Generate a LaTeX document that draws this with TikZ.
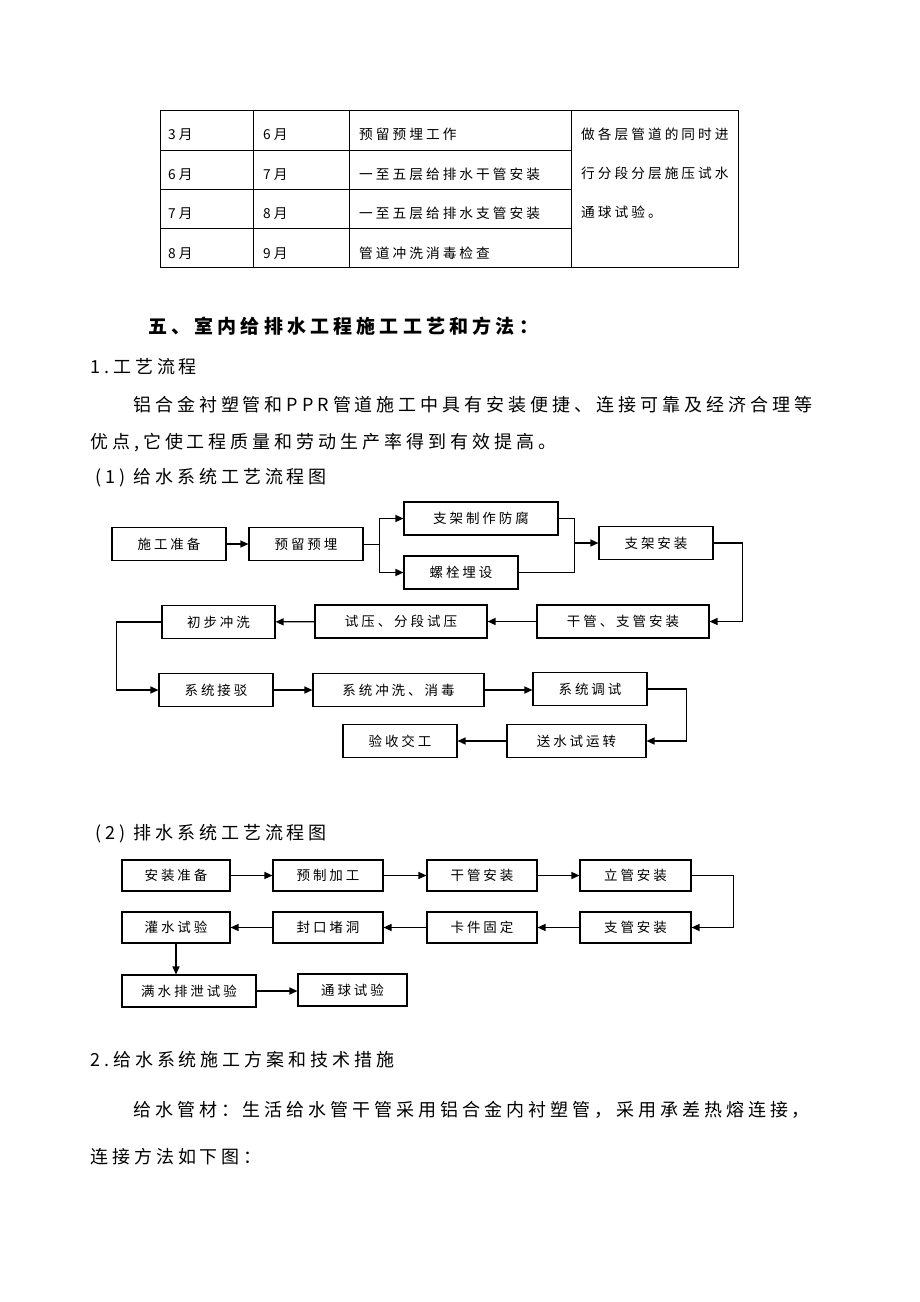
\documentclass[tikz,border=0pt]{standalone}
\usepackage{fontspec}
\setmainfont{Noto Sans CJK SC}[LetterSpace=22]
\usetikzlibrary{arrows.meta}

\begin{document}
\begin{tikzpicture}[
	x=1pt, y=-1pt,
	box/.style={draw, line width=1.1pt, minimum height=33pt, inner sep=0pt, font=\fontsize{13.5}{15}\selectfont},
	arrow/.style={-{Triangle[length=8pt,width=7pt]}, line width=1.3pt},
	link/.style={line width=1pt},
	txt/.style={anchor=west, inner sep=0pt, text height=0.88em, text depth=0.12em},
	body/.style={txt, font=\fontsize{18}{20}\selectfont},
	cell/.style={txt, font=\fontsize{13.7}{16}\selectfont}
	]
	\useasboundingbox (0,0) rectangle (920,1302);
	
	% Schedule table
	\draw[line width=0.9pt] (160,110) rectangle (738,267);
	\foreach \x in {253,349,571} \draw[line width=0.9pt] (\x,110) -- (\x,267);
	\foreach \y in {150,189,228} \draw[line width=0.9pt] (160,\y) -- (571,\y);
	\node[cell] (start1) at (168,136) {3月};
	\node[cell] (end1) at (263,136) {6月};
	\node[cell] (work1) at (359,136) {预留预埋工作};
	\node[cell] (start2) at (168,176) {6月};
	\node[cell] (end2) at (263,176) {7月};
	\node[cell] (work2) at (359,176) {一至五层给排水干管安装};
	\node[cell] (start3) at (168,215) {7月};
	\node[cell] (end3) at (263,215) {8月};
	\node[cell] (work3) at (359,215) {一至五层给排水支管安装};
	\node[cell] (start4) at (168,255) {8月};
	\node[cell] (end4) at (263,255) {9月};
	\node[cell] (work4) at (359,255) {管道冲洗消毒检查};
	\node[cell] (note1) at (581,136) {做各层管道的同时进};
	\node[cell] (note2) at (581,175) {行分段分层施压试水};
	\node[cell] (note3) at (581,214) {通球试验。};
	
	% Text of the page
	\node[body, font=\fontsize{19}{21}\selectfont\bfseries] (title) at (148,330) {五、室内给排水工程施工工艺和方法：};
	\node[body] (sec1) at (90,370) {1.工艺流程};
	\node[body] (para1) at (133,408) {铝合金衬塑管和PPR管道施工中具有安装便捷、连接可靠及经济合理等};
	\node[body] (para2) at (90,445) {优点,它使工程质量和劳动生产率得到有效提高。};
	\node[body] (cap1) at (95,480) {(1)~给水系统工艺流程图};
	\node[body] (cap2) at (95,836) {(2)~排水系统工艺流程图};
	\node[body] (sec2) at (90,1063) {2.给水系统施工方案和技术措施};
	\node[body] (para3) at (133,1113) {给水管材：生活给水管干管采用铝合金内衬塑管，采用承差热熔连接，};
	\node[body] (para4) at (90,1160) {连接方法如下图：};
	
	% Water supply flow
	\node[box, minimum width=114pt] (prepare) at (169,544) {施工准备};
	\node[box, minimum width=114pt] (embed) at (306,544) {预留预埋};
	\node[box, minimum width=154pt] (bracketmake) at (481,518.5) {支架制作防腐};
	\node[box, minimum width=114pt] (bolts) at (461,572.5) {螺栓埋设};
	\node[box, minimum width=114pt] (bracketfit) at (656,543) {支架安装};
	\node[box, minimum width=172pt] (pipefit) at (623,621.5) {干管、支管安装};
	\node[box, minimum width=172pt] (pressure) at (401,621.5) {试压、分段试压};
	\node[box, minimum width=113pt] (firstflush) at (218.5,622) {初步冲洗};
	\node[box, minimum width=114pt] (connect) at (216,690) {系统接驳};
	\node[box, minimum width=171pt] (disinfect) at (398.5,690) {系统冲洗、消毒};
	\node[box, minimum width=114pt] (debug) at (590,689) {系统调试};
	\node[box, minimum width=139pt] (trialrun) at (576.5,741) {送水试运转};
	\node[box, minimum width=114pt] (handover) at (400,741) {验收交工};
	\coordinate (merge) at (574,543);
	
	\draw[arrow] (prepare) -- (embed);
	\draw[link] (embed.east) -- ++(16,0) coordinate (split);
	\draw[arrow] (split) |- (bracketmake.west);
	\draw[arrow] (split) |- (bolts.west);
	\draw[link] (bracketmake.east) -| (merge);
	\draw[link] (bolts.east) -| (merge);
	\draw[arrow] (merge) -- (bracketfit.west);
	\draw[arrow] (bracketfit.east) -- ++(29,0) |- (pipefit.east);
	\draw[arrow] (pipefit) -- (pressure);
	\draw[arrow] (pressure) -- (firstflush);
	\draw[arrow] (firstflush.west) -- ++(-45,0) |- (connect.west);
	\draw[arrow] (connect) -- (disinfect);
	\draw[arrow] (disinfect.east) -- (disinfect.east -| debug.west);
	\draw[arrow] (debug.east) -- ++(39,0) |- (trialrun.east);
	\draw[arrow] (trialrun) -- (handover);
	
	% Drainage flow
	\node[box, minimum width=108pt, minimum height=31pt] (drainprep) at (176,875.5) {安装准备};
	\node[box, minimum width=110pt, minimum height=31pt] (prefab) at (328,875.5) {预制加工};
	\node[box, minimum width=110pt, minimum height=31pt] (mainpipe) at (482,875.5) {干管安装};
	\node[box, minimum width=111pt, minimum height=31pt] (riser) at (635.5,875.5) {立管安装};
	\node[box, minimum width=111pt, minimum height=31pt] (branch) at (635.5,927.5) {支管安装};
	\node[box, minimum width=110pt, minimum height=31pt] (clamps) at (482,927.5) {卡件固定};
	\node[box, minimum width=110pt, minimum height=31pt] (sealholes) at (328,927.5) {封口堵洞};
	\node[box, minimum width=108pt, minimum height=31pt] (filltest) at (176,927.5) {灌水试验};
	\node[box, minimum width=134pt, minimum height=32pt] (fulltest) at (189,991) {满水排泄试验};
	\node[box, minimum width=109pt, minimum height=32pt] (balltest) at (352.5,990) {通球试验};
	
	\draw[arrow] (drainprep) -- (prefab);
	\draw[arrow] (prefab) -- (mainpipe);
	\draw[arrow] (mainpipe) -- (riser);
	\draw[arrow] (riser.east) -- ++(42,0) |- (branch.east);
	\draw[arrow] (branch) -- (clamps);
	\draw[arrow] (clamps) -- (sealholes);
	\draw[arrow] (sealholes) -- (filltest);
	\draw[arrow] (filltest.south) -- (filltest.south |- fulltest.north);
	\draw[arrow] (fulltest.east) -- (fulltest.east -| balltest.west);
	
\end{tikzpicture}
\end{document}
